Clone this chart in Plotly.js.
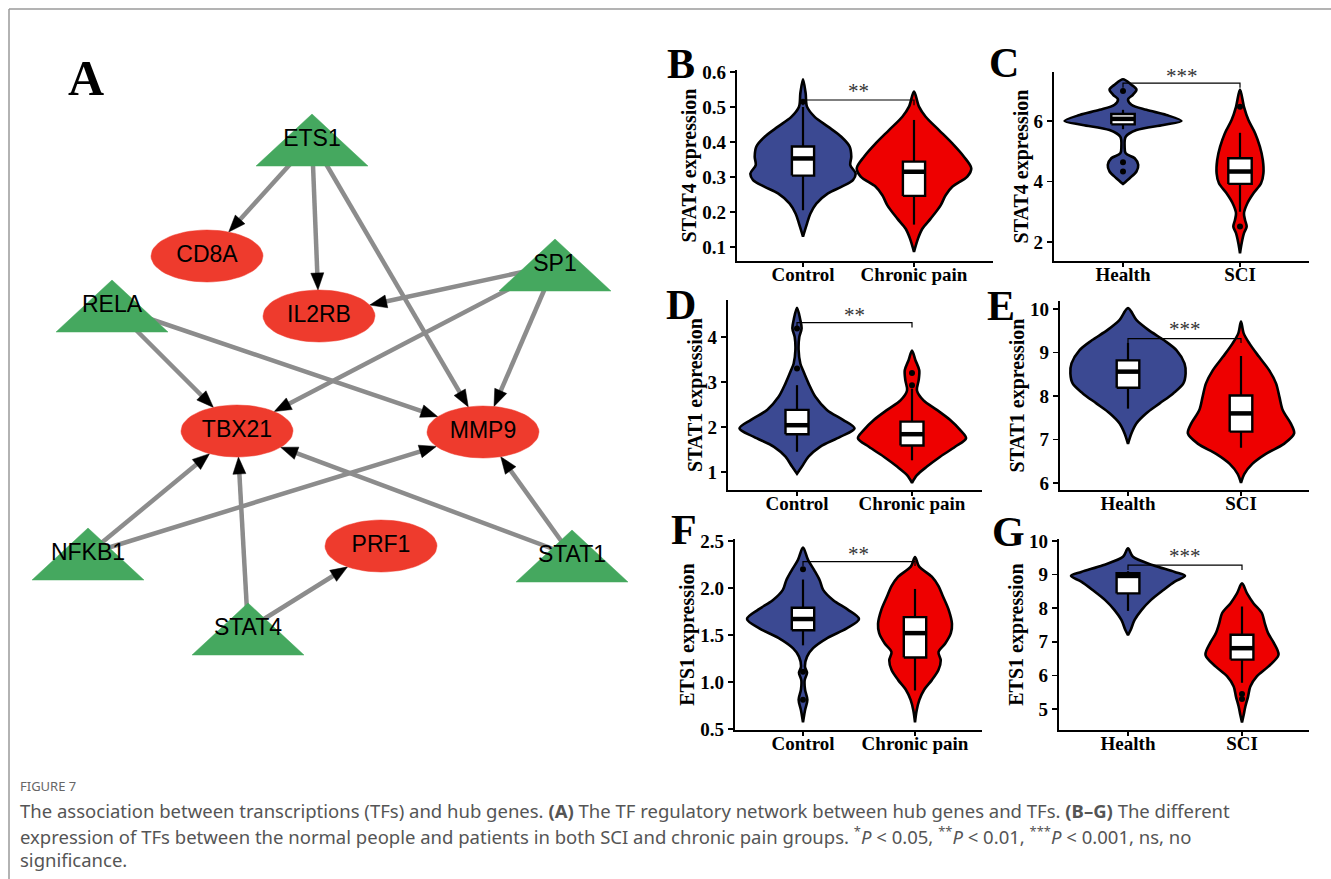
<!DOCTYPE html>
<html><head><meta charset="utf-8">
<script src="https://cdn.plot.ly/plotly-3.0.1.min.js"></script>
<style>html,body{margin:0;padding:0;background:#fff}#chart{width:1331px;height:879px}</style>
</head><body><div id="chart"></div>
<script>
// ---------------- Panel A: TF regulatory network ----------------
const nodeNames = ['ETS1','SP1','RELA','NFKB1','STAT1','STAT4','CD8A','IL2RB','TBX21','MMP9','PRF1'];
const nodeTypes = ['TF','TF','TF','TF','TF','TF','gene','gene','gene','gene','gene'];
const nodeX = [312,555,112,88,572,248,207,319,237,483,381];
const nodeY = [140,265,306,554,556,629,256,316,431,432,546];
const edgeFrom = ['ETS1','ETS1','ETS1','SP1','SP1','SP1','RELA','RELA','NFKB1','NFKB1','STAT4','STAT4','STAT1','STAT1'];
const edgeTo   = ['CD8A','IL2RB','MMP9','IL2RB','TBX21','MMP9','TBX21','MMP9','TBX21','MMP9','TBX21','PRF1','TBX21','MMP9'];

// ---------------- Violin panels ----------------
const groupsLeft = ['Control','Chronic pain'];
const groupsRight = ['Health','SCI'];
// box arrays: [q1, median, q3, lower whisker, upper whisker]
// B: STAT4, chronic pain
const bCtrlY = [0.579,0.539,0.501,0.472,0.444,0.415,0.387,0.358,0.334,0.310,0.291,0.272,0.253,0.224,0.195,0.167,0.130];
const bCtrlW = [0,0.024,0.036,0.105,0.225,0.345,0.42,0.435,0.426,0.474,0.45,0.345,0.225,0.12,0.066,0.036,0];
const bPainY = [0.544,0.501,0.472,0.434,0.396,0.358,0.325,0.301,0.272,0.248,0.219,0.181,0.152,0.124,0.086];
const bPainW = [0,0.045,0.105,0.225,0.345,0.45,0.516,0.48,0.345,0.285,0.24,0.15,0.075,0.036,0];
const bCtrlBox = [0.304,0.353,0.387,0.205,0.50];
const bPainBox = [0.246,0.315,0.344,0.164,0.463];
const bCtrlOut = [0.515];
const bPainOut = [];
const bTicks = [0.1,0.2,0.3,0.4,0.5,0.6];
const bSig = [0.52,0.505,0.545];
// C: STAT4, SCI
const cHealthY = [7.38,7.2,7.04,6.87,6.71,6.54,6.37,6.2,6.0,5.87,5.70,5.48,5.15,4.93,4.77,4.55,4.33,4.11,3.92];
const cHealthW = [0,0.072,0.115,0.086,0.043,0.072,0.2,0.37,0.5,0.345,0.115,0.023,0.014,0.023,0.1,0.13,0.115,0.057,0];
const cSciY = [7.04,6.47,6.03,5.59,5.15,4.71,4.27,3.94,3.61,3.28,2.95,2.73,2.51,2.29,1.96,1.63];
const cSciW = [0,0.034,0.072,0.13,0.17,0.195,0.2,0.18,0.115,0.063,0.034,0.043,0.057,0.034,0.014,0];
const cHealthBox = [5.89,6.07,6.23,5.73,6.37];
const cSciBox = [3.92,4.33,4.77,3.0,5.61];
const cHealthOut = [6.99,4.64,4.33];
const cSciOut = [2.51,6.47];
const cTicks = [2,4,6];
const cSig = [7.25,7.1,7.5];
// D: STAT1, chronic pain
const dCtrlY = [4.65,4.38,4.19,4.0,3.71,3.41,3.26,2.97,2.67,2.38,2.16,1.97,1.78,1.56,1.34,1.12,0.96];
const dCtrlW = [0,0.029,0.04,0.02,0.014,0.029,0.052,0.1,0.16,0.26,0.40,0.50,0.375,0.2,0.1,0.043,0];
const dPainY = [3.70,3.49,3.26,3.04,2.81,2.59,2.38,2.16,1.93,1.75,1.56,1.34,1.12,0.93,0.76];
const dPainW = [0,0.029,0.063,0.058,0.043,0.1,0.216,0.33,0.42,0.47,0.375,0.245,0.13,0.043,0];
const dCtrlBox = [1.84,2.04,2.38,1.45,2.93];
const dPainBox = [1.59,1.84,2.12,1.26,2.85];
const dCtrlOut = [4.19,3.30];
const dPainOut = [3.20,2.93];
const dTicks = [1,2,3,4];
const dSig = [4.32,4.21,4.48];
// E: STAT1, SCI
const eHealthY = [10.02,9.75,9.52,9.28,9.05,8.75,8.52,8.29,8.06,7.83,7.60,7.37,7.14,6.90];
const eHealthW = [0,0.074,0.18,0.32,0.43,0.5,0.51,0.49,0.4,0.28,0.16,0.074,0.03,0];
const eSciY = [9.71,9.44,9.21,8.90,8.59,8.29,7.98,7.67,7.37,7.14,6.90,6.67,6.44,6.21,6.0];
const eSciW = [0,0.024,0.074,0.16,0.25,0.31,0.34,0.37,0.44,0.47,0.38,0.22,0.1,0.03,0];
const eHealthBox = [8.19,8.56,8.82,7.71,9.22];
const eSciBox = [7.18,7.60,8.01,6.81,8.92];
const eHealthOut = [];
const eSciOut = [];
const eTicks = [6,7,8,9,10];
const eSig = [9.32,9.22,9.54];
// F: ETS1, chronic pain
const fCtrlY = [2.43,2.30,2.19,2.08,1.98,1.87,1.77,1.67,1.57,1.47,1.36,1.27,1.16,1.10,1.02,0.92,0.81,0.70,0.57];
const fCtrlW = [0,0.045,0.1,0.15,0.18,0.27,0.4,0.5,0.39,0.22,0.09,0.036,0.018,0.036,0.015,0.018,0.039,0.018,0];
const fPainY = [2.33,2.23,2.12,2.02,1.91,1.77,1.62,1.52,1.41,1.32,1.23,1.13,1.02,0.92,0.81,0.70,0.57];
const fPainW = [0,0.036,0.15,0.21,0.25,0.3,0.33,0.32,0.27,0.21,0.23,0.21,0.15,0.083,0.039,0.015,0];
const fCtrlBox = [1.55,1.67,1.79,1.39,2.09];
const fPainBox = [1.26,1.52,1.69,0.91,1.99];
const fCtrlOut = [2.20,1.11,0.81];
const fPainOut = [];
const fTicks = [0.5,1.0,1.5,2.0,2.5];
const fSig = [2.28,2.235,2.365];
// G: ETS1, SCI
const gHealthY = [9.78,9.53,9.28,9.08,8.96,8.79,8.54,8.24,7.95,7.65,7.35,7.20];
const gHealthW = [0,0.044,0.22,0.41,0.5,0.41,0.31,0.2,0.12,0.058,0.023,0];
const gSciY = [8.74,8.44,8.15,7.85,7.55,7.25,6.96,6.61,6.26,5.97,5.67,5.37,5.08,4.83,4.60];
const gSciW = [0,0.044,0.1,0.175,0.2,0.23,0.28,0.32,0.23,0.13,0.073,0.053,0.03,0.015,0];
const gHealthBox = [8.44,8.96,9.04,7.92,9.1];
const gSciBox = [6.47,6.81,7.21,5.78,8.05];
const gHealthOut = [];
const gSciOut = [5.45,5.30];
const gTicks = [5,6,7,8,9,10];
const gSig = [9.28,9.14,9.56];

// ---------------- styles / geometry ----------------
const W = 1331, H = 879;
const SERIF = 'Liberation Serif, Times New Roman, serif';
const SANS = 'Liberation Sans, Arial, sans-serif';
const BLUE = '#3B4992', RED = '#EE0000';
const GREEN_NODE = '#45A85F', RED_NODE = '#EE3B2D', EDGE = '#8C8C8C';

const panels = [
  {letter:'B', lp:[681,64], groups:groupsLeft, title:'STAT4 expression', stars:'**', ticks:bTicks, fmt:'.1f', sig:bSig,
   a:[bCtrlY,bCtrlW,bCtrlBox,bCtrlOut], b:[bPainY,bPainW,bPainBox,bPainOut],
   geo:{left:737,right:993,top:70,bottom:261,c1:803,c2:914,p1:[0.6,72],p2:[0.1,247]}},
  {letter:'C', lp:[1004,63], groups:groupsRight, title:'STAT4 expression', stars:'***', ticks:cTicks, fmt:'', sig:cSig,
   a:[cHealthY,cHealthW,cHealthBox,cHealthOut], b:[cSciY,cSciW,cSciBox,cSciOut],
   geo:{left:1054,right:1309,top:72,bottom:261,c1:1123,c2:1240,p1:[6,121],p2:[2,242]}},
  {letter:'D', lp:[681,305], groups:groupsLeft, title:'STAT1 expression', stars:'**', ticks:dTicks, fmt:'', sig:dSig,
   a:[dCtrlY,dCtrlW,dCtrlBox,dCtrlOut], b:[dPainY,dPainW,dPainBox,dPainOut],
   geo:{left:728,right:982,top:300,bottom:490,c1:797,c2:912,p1:[4,337],p2:[1,472]}},
  {letter:'E', lp:[1001,306], groups:groupsRight, title:'STAT1 expression', stars:'***', ticks:eTicks, fmt:'', sig:eSig,
   a:[eHealthY,eHealthW,eHealthBox,eHealthOut], b:[eSciY,eSciW,eSciBox,eSciOut],
   geo:{left:1060,right:1309,top:301,bottom:490,c1:1128,c2:1241,p1:[10,309],p2:[6,483]}},
  {letter:'F', lp:[684,530], groups:groupsLeft, title:'ETS1 expression', stars:'**', ticks:fTicks, fmt:'.1f', sig:fSig,
   a:[fCtrlY,fCtrlW,fCtrlBox,fCtrlOut], b:[fPainY,fPainW,fPainBox,fPainOut],
   geo:{left:735,right:982,top:539,bottom:730,c1:803,c2:915,p1:[2.5,541],p2:[0.5,729]}},
  {letter:'G', lp:[1008,532], groups:groupsRight, title:'ETS1 expression', stars:'***', ticks:gTicks, fmt:'', sig:gSig,
   a:[gHealthY,gHealthW,gHealthBox,gHealthOut], b:[gSciY,gSciW,gSciBox,gSciOut],
   geo:{left:1059,right:1309,top:539,bottom:730,c1:1128,c2:1242,p1:[10,541],p2:[5,709]}}
];

const data = [];
const layout = {
  width: W, height: H, margin:{l:0,r:0,t:0,b:0},
  paper_bgcolor:'#fff', plot_bgcolor:'rgba(0,0,0,0)', showlegend:false, hovermode:false,
  xaxis:{domain:[0,1], range:[0,W], visible:false, fixedrange:true},
  yaxis:{domain:[0,1], range:[H,0], visible:false, fixedrange:true},
  annotations:[], shapes:[]
};

// frame
layout.shapes.push({type:'line', xref:'x', yref:'y', x0:9, y0:H+5, x1:9, y1:9, line:{color:'#9a9a9a', width:1.5}});
layout.shapes.push({type:'line', xref:'x', yref:'y', x0:9, y0:9, x1:W+5, y1:9, line:{color:'#9a9a9a', width:1.5}});

// ---- network ----
const HW = 56, HH = 26, ARROW_LEN = 17, ARROW_HW = 6.5;
const idx = n => nodeNames.indexOf(n);
const edgeX=[], edgeY=[], headX=[], headY=[];
edgeFrom.forEach((f,k)=>{
  const s=idx(f), g=idx(edgeTo[k]);
  const sx=nodeX[s], sy=nodeY[s], gx=nodeX[g], gy=nodeY[g];
  const dx=sx-gx, dy=sy-gy, L=Math.hypot(dx,dy);
  const t=1/Math.sqrt((dx/HW)**2+(dy/HH)**2);
  const tx=gx+t*dx, ty=gy+t*dy;
  const ux=dx/L, uy=dy/L;
  const bx=tx+ux*ARROW_LEN, by=ty+uy*ARROW_LEN;
  edgeX.push(sx, bx-ux*3, null); edgeY.push(sy, by-uy*3, null);
  headX.push(tx, bx-uy*ARROW_HW, bx+uy*ARROW_HW, tx, null);
  headY.push(ty, by+ux*ARROW_HW, by-ux*ARROW_HW, ty, null);
});
data.push({type:'scatter', mode:'lines', x:edgeX, y:edgeY, xaxis:'x', yaxis:'y', line:{color:EDGE, width:4.5}, hoverinfo:'skip'});
data.push({type:'scatter', mode:'lines', x:headX, y:headY, xaxis:'x', yaxis:'y', fill:'toself', fillcolor:'#000', line:{color:'#000', width:0.5}, hoverinfo:'skip'});
const elX=[], elY=[], trX=[], trY=[];
nodeNames.forEach((n,i)=>{
  const x=nodeX[i], y=nodeY[i];
  if(nodeTypes[i]==='gene'){
    for(let k=0;k<=60;k++){const a=2*Math.PI*k/60; elX.push(x+HW*Math.cos(a)); elY.push(y+HH*Math.sin(a));}
    elX.push(null); elY.push(null);
  } else {
    trX.push(x, x+HW, x-HW, x, null); trY.push(y-HH, y+HH, y+HH, y-HH, null);
  }
});
data.push({type:'scatter', mode:'lines', x:elX, y:elY, xaxis:'x', yaxis:'y', fill:'toself', fillcolor:RED_NODE, line:{color:RED_NODE, width:0.5}, hoverinfo:'skip'});
data.push({type:'scatter', mode:'lines', x:trX, y:trY, xaxis:'x', yaxis:'y', fill:'toself', fillcolor:GREEN_NODE, line:{color:GREEN_NODE, width:0.5}, hoverinfo:'skip'});
data.push({type:'scatter', mode:'text', x:nodeX, y:nodeY, text:nodeNames, xaxis:'x', yaxis:'y',
  textfont:{family:SANS, size:23, color:'#000'}, textposition:'middle center', hoverinfo:'skip'});
layout.annotations.push({xref:'x', yref:'y', x:86, y:78, text:'A', showarrow:false, xanchor:'center', yanchor:'middle',
  font:{family:SERIF, size:50, color:'#000', weight:700}});

// ---- violin panels ----
function violin(c, ys, ws, color, xa, ya){
  const x=[], y=[];
  for(let i=0;i<ys.length;i++){x.push(c+ws[i]); y.push(ys[i]);}
  for(let i=ys.length-1;i>=0;i--){x.push(c-ws[i]); y.push(ys[i]);}
  return {type:'scatter', mode:'lines', x, y, xaxis:xa, yaxis:ya, fill:'toself', fillcolor:color,
    line:{color:'#000', width:2.6, shape:'spline', smoothing:0.9}, hoverinfo:'skip'};
}
function box(c, b, outs, xa, ya){
  const hw=0.1, tr=[];
  tr.push({type:'scatter', mode:'lines', x:[c,c], y:[b[3],b[4]], xaxis:xa, yaxis:ya, line:{color:'#000', width:2.2}, hoverinfo:'skip'});
  tr.push({type:'scatter', mode:'lines', x:[c-hw,c+hw,c+hw,c-hw,c-hw], y:[b[0],b[0],b[2],b[2],b[0]], xaxis:xa, yaxis:ya,
    fill:'toself', fillcolor:'#fff', line:{color:'#000', width:2.4}, hoverinfo:'skip'});
  tr.push({type:'scatter', mode:'lines', x:[c-hw,c+hw], y:[b[1],b[1]], xaxis:xa, yaxis:ya, line:{color:'#000', width:4.5}, hoverinfo:'skip'});
  if(outs.length) tr.push({type:'scatter', mode:'markers', x:outs.map(()=>c), y:outs, xaxis:xa, yaxis:ya,
    marker:{color:'#000', size:6}, hoverinfo:'skip'});
  return tr;
}

panels.forEach((p,i)=>{
  const n=i+2, xa='x'+n, ya='y'+n, g=p.geo;
  const ppu=g.c2-g.c1;
  const xr=[1-(g.c1-g.left)/ppu, 2+(g.right-g.c2)/ppu];
  const vAt = px => g.p1[0] + (px-g.p1[1])*(g.p2[0]-g.p1[0])/(g.p2[1]-g.p1[1]);
  const yr=[vAt(g.bottom), vAt(g.top)];
  const tickFont={family:SERIF, size:19, color:'#000', weight:700};
  layout['xaxis'+n]={domain:[g.left/W, g.right/W], range:xr, anchor:ya, tickvals:[1,2], ticktext:p.groups,
    showline:true, linecolor:'#000', linewidth:2.2, ticks:'outside', ticklen:4, tickwidth:1.5, tickcolor:'#000',
    tickfont:tickFont, ticklabelstandoff:-9, showgrid:false, zeroline:false, fixedrange:true};
  layout['yaxis'+n]={domain:[1-g.bottom/H, 1-g.top/H], range:yr, anchor:xa, tickvals:p.ticks, tickformat:p.fmt,
    showline:true, linecolor:'#000', linewidth:2.2, ticks:'outside', ticklen:5, tickwidth:1.5, tickcolor:'#000',
    tickfont:tickFont, showgrid:false, zeroline:false, fixedrange:true,
    title:{text:p.title, font:{family:SERIF, size:20, color:'#000', weight:700}, standoff:0}};
  data.push(violin(1, p.a[0], p.a[1], BLUE, xa, ya));
  data.push(violin(2, p.b[0], p.b[1], RED, xa, ya));
  box(1, p.a[2], p.a[3], xa, ya).forEach(t=>data.push(t));
  box(2, p.b[2], p.b[3], xa, ya).forEach(t=>data.push(t));
  data.push({type:'scatter', mode:'lines', x:[1,1,2,2], y:[p.sig[1],p.sig[0],p.sig[0],p.sig[1]], xaxis:xa, yaxis:ya,
    line:{color:'#000', width:1.2}, hoverinfo:'skip'});
  layout.annotations.push({xref:xa, yref:ya, x:1.5, y:p.sig[2], text:p.stars, showarrow:false, xanchor:'center', yanchor:'middle',
    font:{family:SERIF, size:21, color:'#333'}});
  layout.annotations.push({xref:'x', yref:'y', x:p.lp[0], y:p.lp[1], text:p.letter, showarrow:false, xanchor:'center', yanchor:'middle',
    font:{family:SERIF, size:42, color:'#000', weight:700}});
});

// ---- caption ----
const CAP = 'Noto Sans, Open Sans, sans-serif';
const captionLines = [
  'The association between transcriptions (TFs) and hub genes. <b>(A)</b> The TF regulatory network between hub genes and TFs. <b>(B–G)</b> The different',
  'expression of TFs between the normal people and patients in both SCI and chronic pain groups. <sup>*</sup><i>P</i> &lt; 0.05, <sup>**</sup><i>P</i> &lt; 0.01, <sup>***</sup><i>P</i> &lt; 0.001, ns, no',
  'significance.'
];
const captionY = [810, 835, 859];
layout.annotations.push({xref:'x', yref:'y', x:18, y:786, text:'FIGURE 7', showarrow:false, xanchor:'left', yanchor:'middle',
  font:{family:CAP, size:13, color:'#666'}});
captionLines.forEach((t,k)=>layout.annotations.push({xref:'x', yref:'y', x:18, y:captionY[k], text:t, showarrow:false,
  xanchor:'left', yanchor:'middle', font:{family:CAP, size:18.5, color:'#555'}}));

Plotly.newPlot('chart', data, layout, {staticPlot:true, displayModeBar:false});
</script>
</body></html>
